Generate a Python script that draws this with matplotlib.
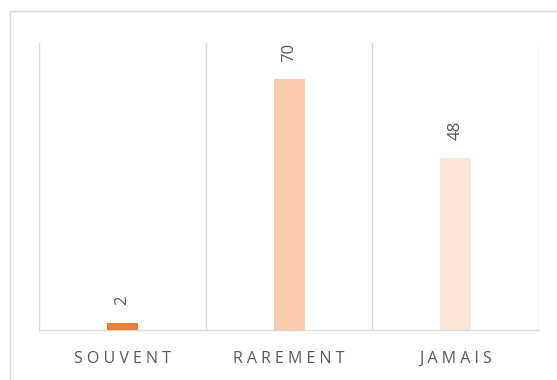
import matplotlib
matplotlib.use("Agg")
import matplotlib.pyplot as plt
from matplotlib.patches import Rectangle

categories = ["SOUVENT", "RAREMENT", "JAMAIS"]
values = [2, 70, 48]
colors = ["#ED7D31", "#F8CBAD", "#FBE5D6"]

plt.rcParams['font.family'] = ['Open Sans', 'DejaVu Sans']

fig = plt.figure(figsize=(5.57, 3.80), dpi=100)
ax = fig.add_axes([39/557, 50/380, 500/557, 287/380])

x = list(range(len(categories)))
bars = ax.bar(x, values, width=0.186, color=colors, zorder=3)

# valeurs au-dessus des barres, texte vertical
for xi, v in zip(x, values):
    ax.annotate(str(v), (xi, v), xytext=(0, 12.5), textcoords="offset points",
                rotation=90, ha="center", va="bottom", fontsize=12, color="#595959")

ax.set_xlim(-0.5, len(categories) - 0.5)
ax.set_ylim(0, 80)

# séparateurs verticaux entre catégories
for b in [i - 0.5 for i in range(len(categories) + 1)]:
    ax.axvline(b, color="#D9D9D9", lw=1.0, zorder=1)

for s in ["top", "right", "left"]:
    ax.spines[s].set_visible(False)
ax.spines["bottom"].set_color("#D9D9D9")
ax.spines["bottom"].set_linewidth(1.0)

ax.set_yticks([])
ax.set_xticks(x)
ax.set_xticklabels([" ".join(c) for c in categories], fontsize=11.5, color="#595959")
ax.tick_params(axis="x", length=0, pad=15)

# cadre du graphique (coupé à droite et en bas)
fig.patches.append(Rectangle((10/557, -0.5), 2.0, 1.5 - 11/380, transform=fig.transFigure,
                             fill=False, edgecolor="#D9D9D9", lw=1.0))

fig.savefig("out.png", dpi=100)
